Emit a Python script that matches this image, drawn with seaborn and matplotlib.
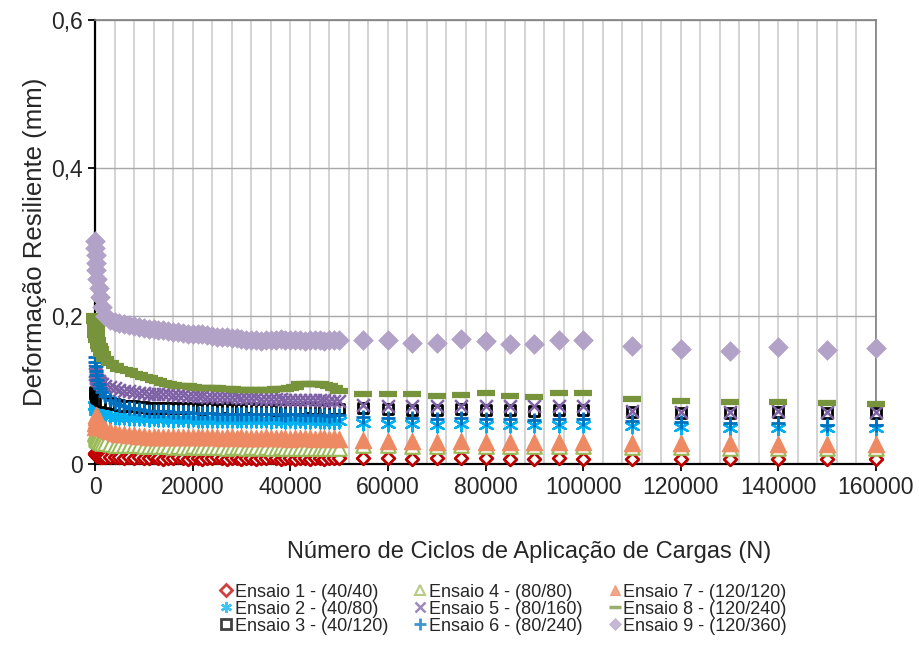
import pandas as pd
import matplotlib
matplotlib.use("Agg")
import matplotlib.pyplot as plt
from matplotlib.ticker import MultipleLocator, FuncFormatter
from matplotlib.lines import Line2D
import seaborn as sns

# Ciclos de carga: leitura densa ate 50000, depois leituras espacadas
ciclos_denso = [0, 50, 100, 200, 300, 500, 750, 1000, 1500, 2000,
                3000, 4000, 5000, 6000, 7000, 8000, 9000, 10000, 11000, 12000,
                13000, 14000, 15000, 16000, 17000, 18000, 19000, 20000, 21000, 22000,
                23000, 24000, 25000, 26000, 27000, 28000, 29000, 30000, 31000, 32000,
                33000, 34000, 35000, 36000, 37000, 38000, 39000, 40000, 41000, 42000,
                43000, 44000, 45000, 46000, 47000, 48000, 49000, 50000]
ciclos_esparso = [55000, 60000, 65000, 70000, 75000, 80000, 85000, 90000, 95000,
                  100000, 110000, 120000, 130000, 140000, 150000, 160000]

ensaio_1 = [0.015, 0.014, 0.013, 0.012, 0.012, 0.011, 0.011, 0.010, 0.010, 0.010,
            0.009, 0.010, 0.009, 0.008, 0.009, 0.008, 0.009, 0.008, 0.008, 0.009,
            0.008, 0.007, 0.008, 0.008, 0.009, 0.008, 0.007, 0.008, 0.008, 0.007,
            0.008, 0.008, 0.009, 0.008, 0.007, 0.008, 0.008, 0.007, 0.008, 0.008,
            0.007, 0.008, 0.008, 0.009, 0.008, 0.007, 0.008, 0.008, 0.007, 0.008,
            0.008, 0.007, 0.008, 0.008, 0.007, 0.008, 0.008, 0.008,
            0.008, 0.008, 0.007, 0.008, 0.008, 0.008, 0.007, 0.007, 0.008, 0.007,
            0.007, 0.007, 0.007, 0.007, 0.007, 0.007]
ensaio_2 = [0.080, 0.078, 0.076, 0.074, 0.072, 0.071, 0.070, 0.069, 0.067, 0.066,
            0.065, 0.064, 0.063, 0.063, 0.062, 0.062, 0.062, 0.062, 0.061, 0.062,
            0.061, 0.061, 0.061, 0.060, 0.061, 0.061, 0.060, 0.061, 0.060, 0.060,
            0.060, 0.060, 0.059, 0.060, 0.060, 0.059, 0.060, 0.059, 0.059, 0.060,
            0.059, 0.059, 0.059, 0.058, 0.059, 0.059, 0.058, 0.059, 0.058, 0.059,
            0.058, 0.058, 0.059, 0.058, 0.058, 0.058, 0.057, 0.058,
            0.055, 0.054, 0.054, 0.053, 0.054, 0.053, 0.053, 0.052, 0.053, 0.053,
            0.051, 0.050, 0.049, 0.049, 0.048, 0.048]
ensaio_3 = [0.097, 0.095, 0.093, 0.092, 0.090, 0.089, 0.088, 0.087, 0.085, 0.084,
            0.082, 0.081, 0.080, 0.079, 0.078, 0.078, 0.077, 0.077, 0.076, 0.076,
            0.076, 0.076, 0.075, 0.075, 0.075, 0.075, 0.075, 0.075, 0.075, 0.074,
            0.075, 0.075, 0.074, 0.074, 0.075, 0.074, 0.074, 0.074, 0.074, 0.075,
            0.074, 0.074, 0.074, 0.074, 0.073, 0.074, 0.074, 0.074, 0.074, 0.074,
            0.074, 0.075, 0.074, 0.074, 0.074, 0.073, 0.074, 0.074,
            0.075, 0.074, 0.073, 0.073, 0.074, 0.073, 0.073, 0.072, 0.073, 0.073,
            0.070, 0.069, 0.069, 0.070, 0.069, 0.069]
ensaio_4 = [0.042, 0.040, 0.038, 0.036, 0.034, 0.032, 0.031, 0.030, 0.029, 0.028,
            0.027, 0.026, 0.026, 0.025, 0.025, 0.025, 0.025, 0.024, 0.024, 0.024,
            0.024, 0.024, 0.024, 0.023, 0.024, 0.023, 0.023, 0.024, 0.023, 0.023,
            0.023, 0.023, 0.023, 0.023, 0.022, 0.023, 0.023, 0.023, 0.022, 0.023,
            0.023, 0.022, 0.023, 0.022, 0.022, 0.023, 0.022, 0.022, 0.022, 0.022,
            0.022, 0.022, 0.022, 0.022, 0.022, 0.021, 0.022, 0.022,
            0.025, 0.025, 0.024, 0.024, 0.025, 0.024, 0.024, 0.024, 0.024, 0.024,
            0.023, 0.023, 0.022, 0.022, 0.022, 0.022]
ensaio_5 = [0.125, 0.122, 0.120, 0.118, 0.116, 0.114, 0.112, 0.110, 0.108, 0.106,
            0.104, 0.102, 0.100, 0.099, 0.098, 0.097, 0.096, 0.096, 0.095, 0.095,
            0.094, 0.094, 0.094, 0.093, 0.093, 0.093, 0.092, 0.092, 0.092, 0.092,
            0.091, 0.091, 0.091, 0.090, 0.090, 0.090, 0.090, 0.089, 0.089, 0.089,
            0.089, 0.088, 0.088, 0.088, 0.088, 0.088, 0.087, 0.087, 0.087, 0.087,
            0.087, 0.086, 0.086, 0.086, 0.086, 0.085, 0.085, 0.085,
            0.080, 0.079, 0.079, 0.078, 0.079, 0.079, 0.078, 0.078, 0.079, 0.079,
            0.072, 0.070, 0.070, 0.071, 0.070, 0.070]
ensaio_6 = [0.145, 0.138, 0.132, 0.126, 0.120, 0.114, 0.108, 0.103, 0.097, 0.092,
            0.087, 0.083, 0.080, 0.078, 0.076, 0.075, 0.074, 0.073, 0.072, 0.072,
            0.071, 0.071, 0.071, 0.070, 0.070, 0.070, 0.070, 0.069, 0.069, 0.069,
            0.069, 0.069, 0.068, 0.068, 0.068, 0.068, 0.068, 0.068, 0.067, 0.068,
            0.067, 0.067, 0.067, 0.067, 0.067, 0.067, 0.066, 0.067, 0.067, 0.066,
            0.066, 0.066, 0.066, 0.066, 0.066, 0.065, 0.066, 0.066,
            0.063, 0.062, 0.062, 0.061, 0.062, 0.061, 0.061, 0.060, 0.061, 0.061,
            0.058, 0.057, 0.055, 0.055, 0.053, 0.053]
ensaio_7 = [0.050, 0.055, 0.060, 0.064, 0.066, 0.065, 0.060, 0.055, 0.050, 0.047,
            0.044, 0.042, 0.041, 0.040, 0.039, 0.039, 0.038, 0.038, 0.037, 0.037,
            0.037, 0.037, 0.037, 0.037, 0.036, 0.037, 0.036, 0.036, 0.036, 0.036,
            0.036, 0.036, 0.036, 0.035, 0.036, 0.036, 0.035, 0.036, 0.035, 0.035,
            0.035, 0.035, 0.036, 0.035, 0.035, 0.035, 0.035, 0.034, 0.035, 0.035,
            0.035, 0.035, 0.034, 0.035, 0.035, 0.034, 0.035, 0.034,
            0.032, 0.031, 0.031, 0.030, 0.031, 0.030, 0.030, 0.030, 0.030, 0.030,
            0.029, 0.028, 0.028, 0.027, 0.027, 0.027]
ensaio_8 = [0.200, 0.193, 0.187, 0.180, 0.174, 0.167, 0.160, 0.155, 0.148, 0.142,
            0.136, 0.132, 0.129, 0.127, 0.125, 0.122, 0.120, 0.118, 0.116, 0.114,
            0.112, 0.110, 0.108, 0.107, 0.106, 0.105, 0.105, 0.104, 0.103, 0.103,
            0.102, 0.102, 0.102, 0.101, 0.101, 0.101, 0.100, 0.100, 0.100, 0.100,
            0.100, 0.100, 0.100, 0.100, 0.101, 0.101, 0.101, 0.102, 0.104, 0.108,
            0.108, 0.108, 0.108, 0.108, 0.107, 0.106, 0.103, 0.099,
            0.094, 0.094, 0.095, 0.092, 0.093, 0.096, 0.092, 0.090, 0.096, 0.096,
            0.088, 0.085, 0.084, 0.084, 0.082, 0.081]
ensaio_9 = [0.302, 0.292, 0.283, 0.272, 0.262, 0.250, 0.238, 0.226, 0.212, 0.200,
            0.195, 0.192, 0.190, 0.189, 0.188, 0.186, 0.185, 0.184, 0.183, 0.182,
            0.181, 0.181, 0.180, 0.178, 0.178, 0.177, 0.176, 0.176, 0.175, 0.175,
            0.174, 0.173, 0.172, 0.172, 0.171, 0.170, 0.170, 0.169, 0.168, 0.168,
            0.167, 0.166, 0.167, 0.168, 0.168, 0.169, 0.168, 0.167, 0.168, 0.167,
            0.166, 0.167, 0.168, 0.167, 0.166, 0.167, 0.168, 0.167,
            0.168, 0.168, 0.163, 0.163, 0.169, 0.166, 0.162, 0.162, 0.168, 0.167,
            0.160, 0.156, 0.153, 0.158, 0.154, 0.157]

rotulos = ["Ensaio 1 - (40/40)", "Ensaio 2 - (40/80)", "Ensaio 3 - (40/120)",
           "Ensaio 4 - (80/80)", "Ensaio 5 - (80/160)", "Ensaio 6 - (80/240)",
           "Ensaio 7 - (120/120)", "Ensaio 8 - (120/240)", "Ensaio 9 - (120/360)"]
series = [ensaio_1, ensaio_2, ensaio_3, ensaio_4, ensaio_5,
          ensaio_6, ensaio_7, ensaio_8, ensaio_9]

ciclos = ciclos_denso + ciclos_esparso
df = pd.concat([pd.DataFrame({"Ciclos": ciclos, "Deformacao": v, "Ensaio": r})
                for v, r in zip(series, rotulos)], ignore_index=True)

# estilo de cada ensaio: marker, s, face, edge, lw, tamanho na legenda
estilos = {
    rotulos[0]: dict(marker="D", s=42, fc="white", ec="#C00000", lw=2.0, ms=6),
    rotulos[1]: dict(marker=(6, 2, 0), s=100, fc="#00B0F0", ec="#00B0F0", lw=1.7, ms=8),
    rotulos[2]: dict(marker="s", s=62, fc="white", ec="black", lw=2.0, ms=7),
    rotulos[3]: dict(marker="^", s=110, fc="white", ec="#9BBB59", lw=1.5, ms=7),
    rotulos[4]: dict(marker="x", s=85, fc="#7F62A6", ec="#7F62A6", lw=1.8, ms=7),
    rotulos[5]: dict(marker="+", s=110, fc="#0070C0", ec="#0070C0", lw=2.0, ms=8),
    rotulos[6]: dict(marker="^", s=140, fc="#EE8A63", ec="#EE8A63", lw=0.8, ms=7),
    rotulos[7]: dict(marker="_", s=180, fc="#77933C", ec="#77933C", lw=4.5, ms=9),
    rotulos[8]: dict(marker="D", s=100, fc="#B3A2C7", ec="#B3A2C7", lw=0.5, ms=6),
}

sns.set_style("white")
plt.rcParams["font.family"] = ["Liberation Sans", "DejaVu Sans"]

fig = plt.figure(figsize=(9.19, 6.48), dpi=100)
ax = fig.add_axes([0.1034, 0.284, 0.8498, 0.6851])

for r in rotulos:
    e = estilos[r]
    sns.scatterplot(data=df[df["Ensaio"] == r], x="Ciclos", y="Deformacao", ax=ax,
                    marker=e["marker"], s=e["s"], facecolor=e["fc"], edgecolor=e["ec"],
                    linewidth=e["lw"], clip_on=False, zorder=3, legend=False)

ax.set_xlim(0, 160000)
ax.set_ylim(0, 0.6)
ax.xaxis.set_major_locator(MultipleLocator(20000))
ax.xaxis.set_minor_locator(MultipleLocator(4000))
ax.yaxis.set_major_locator(MultipleLocator(0.2))
ax.yaxis.set_major_formatter(FuncFormatter(lambda v, p: ("%g" % round(v, 1)).replace(".", ",")))
ax.grid(True, which="both", axis="x", color="#D0D0D0", lw=1.3)
ax.grid(True, which="major", axis="y", color="#A8A8A8", lw=1.0)
ax.set_axisbelow(True)

for s in ["left", "bottom"]:
    ax.spines[s].set_color("black")
    ax.spines[s].set_linewidth(1.6)
for s in ["top", "right"]:
    ax.spines[s].set_color("#7F7F7F")
    ax.spines[s].set_linewidth(1.2)

ax.tick_params(axis="both", which="major", direction="out", length=5, width=1.3,
               color="black", labelsize=16.5, labelcolor="#262626", pad=4,
               bottom=True, left=True)
ax.tick_params(axis="x", which="minor", length=0)

ax.set_xlabel("Número de Ciclos de Aplicação de Cargas (N)", fontsize=17,
              color="#262626", va="center")
ax.xaxis.set_label_coords(0.556, -0.198)
ax.set_ylabel("Deformação Resiliente (mm)", fontsize=18.5, color="#262626", labelpad=3)

handles = []
for r in rotulos:
    e = estilos[r]
    handles.append(Line2D([], [], linestyle="none", marker=e["marker"], markersize=e["ms"],
                          markerfacecolor=e["fc"], markeredgecolor=e["ec"],
                          markeredgewidth=min(e["lw"], 2.5), alpha=0.75))
fig.legend(handles, rotulos, loc="center", bbox_to_anchor=(0.548, 0.06), ncol=3,
           frameon=False, fontsize=13, handlelength=0.6, handletextpad=0.15,
           columnspacing=1.5, labelspacing=0.0, labelcolor="#262626",
           borderpad=0.1)

fig.savefig("out.png", dpi=100)
